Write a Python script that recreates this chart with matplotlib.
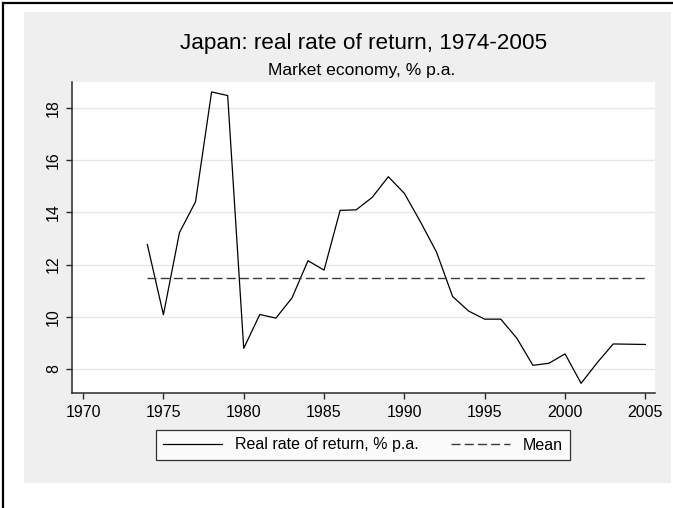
import matplotlib
matplotlib.use("Agg")
import matplotlib.pyplot as plt
import numpy as np
from matplotlib.lines import Line2D
from matplotlib.patches import Rectangle

plt.rcParams['font.family'] = ['Liberation Sans', 'DejaVu Sans']

# data
years = list(range(1974, 2006))
rate = [12.77, 10.08, 13.23, 14.41, 18.62, 18.48, 8.79, 10.09, 9.95, 10.72,
        12.15, 11.79, 14.08, 14.10, 14.58, 15.37, 14.73, 13.64, 12.48, 10.78,
        10.22, 9.91, 9.91, 9.18, 8.14, 8.22, 8.58, 7.45, 8.24, 8.96,
        8.95, 8.94]
mean_val = np.mean(rate)
xticks = [1970, 1975, 1980, 1985, 1990, 1995, 2000, 2005]
yticks = [8, 10, 12, 14, 16, 18]

W, H = 673, 508
fig = plt.figure(figsize=(W/100, H/100), dpi=100, facecolor='white')

# grey background panel
fig.add_artist(Rectangle((24/W, 1-483/H), (671-24)/W, (483-12)/H,
                         transform=fig.transFigure, facecolor='#efefef',
                         edgecolor='none', zorder=-10))
# black frame at top and left
fig.add_artist(Line2D([2.5/W, 2.5/W], [0, 1-2.5/H], transform=fig.transFigure,
                      color='black', lw=1.6))
fig.add_artist(Line2D([2.5/W, 1], [1-2.5/H, 1-2.5/H], transform=fig.transFigure,
                      color='black', lw=1.6))

ax = fig.add_axes([72/W, 1-393/H, (655-72)/W, (393-82)/H])
ax.set_facecolor('white')
ax.plot(years, rate, color='black', lw=0.9, label='Real rate of return, % p.a.')
ax.plot([years[0], years[-1]], [mean_val, mean_val], color='#3a3a3a', lw=1.0,
        linestyle=(0, (6.5, 3)), label='Mean')

ax.set_xlim(1969.31, 2005.6)
ax.set_ylim(7.08, 19.0)
ax.set_xticks(xticks)
ax.set_yticks(yticks)
ax.grid(axis='y', color='#e6e6e6', lw=1.0)
ax.set_axisbelow(True)
for s in ['top', 'right']:
    ax.spines[s].set_visible(False)
for s in ['left', 'bottom']:
    ax.spines[s].set_color('#2a2a2a')
    ax.spines[s].set_linewidth(1.1)
ax.tick_params(axis='both', length=4.5, width=1.0, color='#2a2a2a', labelsize=11.5)
ax.tick_params(axis='x', pad=4)
for lab in ax.get_yticklabels():
    lab.set_rotation(90)
    lab.set_va('center')

fig.text(363.5/W, 1-43/H, 'Japan: real rate of return, 1974-2005', ha='center',
         va='center', fontsize=16.2)
fig.text(362/W, 1-70/H, 'Market economy, % p.a.', ha='center', va='center',
         fontsize=12.6)

leg = fig.legend(loc='center', bbox_to_anchor=(363/W, 1-445/H), ncol=2,
                 fontsize=11.5, frameon=True, fancybox=False, edgecolor='black',
                 handlelength=3.7, handletextpad=0.8, columnspacing=2.0,
                 borderpad=0.45)
leg.get_frame().set_linewidth(0.9)

fig.savefig('out.png', dpi=100, facecolor='white')
